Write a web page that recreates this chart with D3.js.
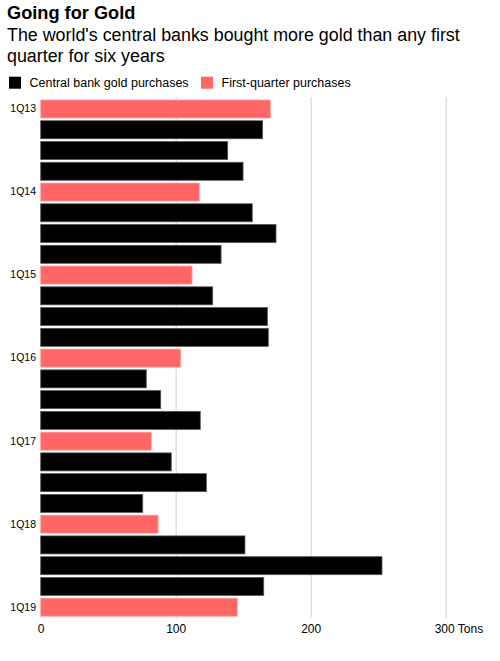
<!DOCTYPE html>
<html>
<head>
<meta charset="utf-8">
<script src="https://cdn.jsdelivr.net/npm/d3@7"></script>
<style>
  html, body { margin: 0; padding: 0; background: #fff; }
  svg { display: block; font-family: "Liberation Sans", Arial, Helvetica, sans-serif; }
</style>
</head>
<body>
<div id="chart"></div>
<script>
// Quarterly central bank gold purchases, tonnes
const quarters = [
    "1Q13", "2Q13", "3Q13", "4Q13",
    "1Q14", "2Q14", "3Q14", "4Q14",
    "1Q15", "2Q15", "3Q15", "4Q15",
    "1Q16", "2Q16", "3Q16", "4Q16",
    "1Q17", "2Q17", "3Q17", "4Q17",
    "1Q18", "2Q18", "3Q18", "4Q18",
    "1Q19"
];
const purchases = [
    170.1, 164.4, 138.5, 149.9,
    117.5, 156.7, 174.3, 133.6,
    112.1, 127.4, 167.9, 168.6,
    103.7, 78.2, 88.9, 118.2,
    81.9, 96.7, 122.7, 75.6,
    86.9, 151.3, 252.8, 165.2,
    145.6
];
const yTickLabels = ["1Q13", "1Q14", "1Q15", "1Q16", "1Q17", "1Q18", "1Q19"];
const xTicks = [0, 100, 200, 300];
const legendItems = ["Central bank gold purchases", "First-quarter purchases"];

const RED = "#ff6666";
const width = 500;
const height = 661;

const data = quarters.map((q, i) => ({ q: q, v: purchases[i], first: q.startsWith("1Q") }));

const svg = d3.select("#chart").append("svg")
    .attr("width", width)
    .attr("height", height);

// Scales
const x = d3.scaleLinear().domain([0, 300]).range([40.7, 445.7]);
const y = d3.scaleBand()
    .domain(quarters)
    .range([100, 616.2])
    .paddingInner(0.133)
    .paddingOuter(0);

// Headline
svg.append("text")
    .attr("x", 7)
    .attr("y", 19)
    .attr("font-size", 18.2)
    .attr("font-weight", "bold")
    .attr("fill", "#000")
    .text("Going for Gold");

const sub = svg.append("text")
    .attr("x", 7)
    .attr("font-size", 17.85)
    .attr("fill", "#000");
sub.append("tspan").attr("x", 7).attr("y", 41).text("The world's central banks bought more gold than any first");
sub.append("tspan").attr("x", 7).attr("y", 62).text("quarter for six years");

// Legend
const legend = svg.append("g").attr("font-size", 12.5);
const legendX = [9, 201];
legendItems.forEach((name, i) => {
    legend.append("rect")
        .attr("x", legendX[i])
        .attr("y", 76.7)
        .attr("width", 12)
        .attr("height", 12)
        .attr("fill", i === 0 ? "#000" : RED);
    legend.append("text")
        .attr("x", legendX[i] + 20.5)
        .attr("y", 86.5)
        .attr("fill", "#000")
        .text(name);
});

// Gridlines
const grid = svg.append("g")
    .attr("transform", `translate(0,618)`)
    .call(d3.axisBottom(x)
        .tickValues(xTicks.filter(d => d > 0))
        .tickSize(-521)
        .tickFormat(""));
grid.select(".domain").remove();
grid.selectAll(".tick line")
    .attr("stroke", "#dedede")
    .attr("stroke-width", 1.4);

// Bars
svg.append("g")
    .selectAll("rect")
    .data(data)
    .join("rect")
    .attr("x", x(0))
    .attr("y", d => y(d.q))
    .attr("width", d => x(d.v) - x(0))
    .attr("height", y.bandwidth())
    .attr("fill", d => d.first ? RED : "#000")
    .attr("stroke", d => d.first ? "#ffa0a0" : "#555")
    .attr("stroke-width", 0.8);

// Y axis labels (first quarters only)
const yAxis = svg.append("g")
    .attr("transform", `translate(36,0)`)
    .call(d3.axisLeft(y)
        .tickValues(yTickLabels)
        .tickSize(0)
        .tickPadding(0));
yAxis.select(".domain").remove();
yAxis.selectAll("text")
    .attr("font-family", "Liberation Sans, Arial, Helvetica, sans-serif")
    .attr("font-size", 10.5)
    .attr("fill", "#000");

// X axis labels
const xAxis = svg.append("g")
    .attr("transform", `translate(0,624.5)`)
    .call(d3.axisBottom(x)
        .tickValues(xTicks)
        .tickSize(0)
        .tickPadding(0)
        .tickFormat(d => d === 300 ? "300 Tons" : d));
xAxis.select(".domain").remove();
xAxis.selectAll("text")
    .attr("font-family", "Liberation Sans, Arial, Helvetica, sans-serif")
    .attr("font-size", 12)
    .attr("fill", "#000")
    .attr("dy", "0.71em");
xAxis.selectAll(".tick")
    .filter(d => d === 300)
    .select("text")
    .attr("text-anchor", "start")
    .attr("x", -11.5);
</script>
</body>
</html>
